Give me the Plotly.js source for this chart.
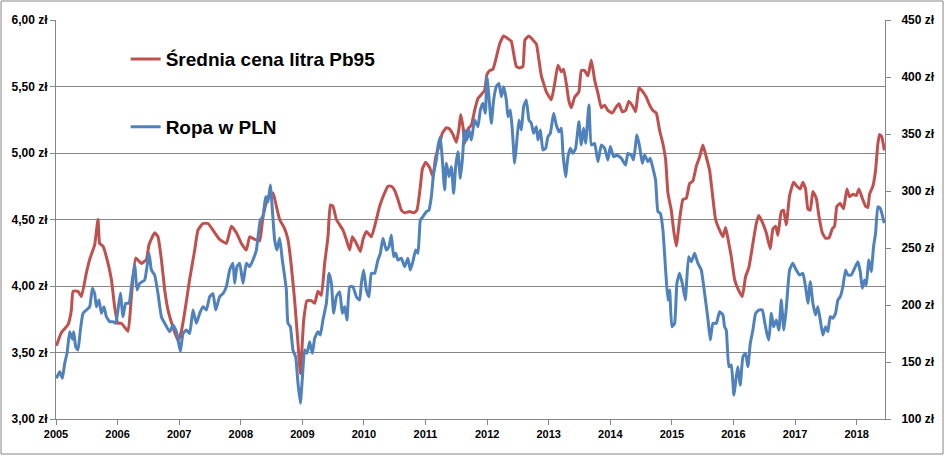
<!DOCTYPE html>
<html>
<head>
<meta charset="utf-8">
<script src="https://cdn.plot.ly/plotly-3.0.1.min.js"></script>
<style>
  html, body { margin: 0; padding: 0; background: #ffffff; }
  #wykres { width: 945px; height: 468px; }
</style>
</head>
<body>
<div id="wykres"></div>
<script>
// Średnia cena litra Pb95 (zł) - lewa oś
var lataPb95 = [
    2005.006, 2005.088, 2005.195, 2005.250, 2005.276, 2005.357, 2005.412, 2005.494, 2005.547, 2005.628,
    2005.682, 2005.709, 2005.763, 2005.818, 2005.899, 2005.953, 2006.006, 2006.062, 2006.169, 2006.224,
    2006.294, 2006.386, 2006.468, 2006.510, 2006.602, 2006.656, 2006.711, 2006.765, 2006.818, 2006.899,
    2006.981, 2007.036, 2007.089, 2007.170, 2007.252, 2007.305, 2007.386, 2007.468, 2007.549, 2007.657,
    2007.766, 2007.847, 2007.929, 2008.010, 2008.091, 2008.144, 2008.226, 2008.307, 2008.360, 2008.442,
    2008.523, 2008.578, 2008.631, 2008.713, 2008.766, 2008.821, 2008.875, 2008.929, 2008.968, 2009.021,
    2009.075, 2009.146, 2009.200, 2009.253, 2009.308, 2009.362, 2009.416, 2009.455, 2009.497, 2009.552,
    2009.606, 2009.659, 2009.714, 2009.768, 2009.812, 2009.877, 2009.942, 2009.984, 2010.039, 2010.120,
    2010.201, 2010.255, 2010.336, 2010.390, 2010.445, 2010.498, 2010.552, 2010.607, 2010.661, 2010.742,
    2010.807, 2010.860, 2010.916, 2010.948, 2011.002, 2011.067, 2011.120, 2011.164, 2011.218, 2011.273,
    2011.338, 2011.391, 2011.445, 2011.500, 2011.542, 2011.570, 2011.607, 2011.635, 2011.688, 2011.744,
    2011.797, 2011.851, 2011.906, 2011.959, 2011.997, 2012.041, 2012.094, 2012.149, 2012.203, 2012.268,
    2012.338, 2012.393, 2012.430, 2012.474, 2012.528, 2012.581, 2012.614, 2012.679, 2012.744, 2012.799,
    2012.841, 2012.880, 2012.906, 2012.961, 2013.042, 2013.096, 2013.149, 2013.205, 2013.242, 2013.286,
    2013.328, 2013.367, 2013.421, 2013.490, 2013.529, 2013.583, 2013.636, 2013.692, 2013.745, 2013.799,
    2013.854, 2013.907, 2013.961, 2014.032, 2014.086, 2014.140, 2014.195, 2014.248, 2014.302, 2014.367,
    2014.411, 2014.464, 2014.529, 2014.584, 2014.638, 2014.692, 2014.747, 2014.800, 2014.854, 2014.898,
    2014.935, 2014.990, 2015.028, 2015.071, 2015.125, 2015.179, 2015.234, 2015.287, 2015.341, 2015.396,
    2015.450, 2015.503, 2015.558, 2015.612, 2015.656, 2015.709, 2015.774, 2015.828, 2015.872, 2015.909,
    2015.964, 2016.018, 2016.071, 2016.143, 2016.196, 2016.250, 2016.315, 2016.370, 2016.412, 2016.468,
    2016.532, 2016.597, 2016.640, 2016.684, 2016.721, 2016.776, 2016.813, 2016.857, 2016.911, 2016.976,
    2017.029, 2017.084, 2017.127, 2017.170, 2017.208, 2017.247, 2017.289, 2017.344, 2017.386, 2017.442,
    2017.495, 2017.549, 2017.604, 2017.641, 2017.679, 2017.734, 2017.787, 2017.841, 2017.885, 2017.938,
    2017.994, 2018.036, 2018.091, 2018.144, 2018.182, 2018.209, 2018.263, 2018.307, 2018.344, 2018.372,
    2018.409, 2018.448
];
var cenaPb95 = [
    3.55, 3.65, 3.71, 3.82, 3.96, 3.96, 3.92, 4.10, 4.20, 4.31,
    4.50, 4.32, 4.30, 4.22, 4.05, 3.84, 3.72, 3.72, 3.66, 3.92,
    4.21, 4.17, 4.20, 4.31, 4.40, 4.37, 4.20, 3.97, 3.82, 3.69,
    3.59, 3.66, 3.80, 4.05, 4.27, 4.42, 4.47, 4.47, 4.42, 4.35,
    4.32, 4.45, 4.40, 4.32, 4.27, 4.37, 4.35, 4.34, 4.52, 4.67,
    4.70, 4.60, 4.50, 4.43, 4.35, 4.15, 3.89, 3.57, 3.34, 3.74,
    3.89, 3.89, 3.87, 3.96, 3.93, 4.17, 4.37, 4.61, 4.60, 4.50,
    4.46, 4.42, 4.35, 4.27, 4.37, 4.32, 4.26, 4.35, 4.41, 4.37,
    4.50, 4.60, 4.70, 4.75, 4.75, 4.72, 4.65, 4.57, 4.55, 4.56,
    4.55, 4.57, 4.75, 4.88, 4.93, 4.89, 4.82, 4.97, 5.05, 5.15,
    5.19, 5.18, 5.14, 5.08, 5.18, 5.29, 5.20, 5.07, 5.18, 5.21,
    5.32, 5.41, 5.44, 5.47, 5.59, 5.62, 5.63, 5.72, 5.82, 5.88,
    5.86, 5.84, 5.75, 5.65, 5.64, 5.65, 5.85, 5.88, 5.85, 5.82,
    5.70, 5.58, 5.54, 5.46, 5.40, 5.52, 5.66, 5.61, 5.63, 5.52,
    5.39, 5.34, 5.42, 5.46, 5.62, 5.62, 5.58, 5.70, 5.55, 5.45,
    5.34, 5.36, 5.32, 5.30, 5.34, 5.37, 5.31, 5.32, 5.39, 5.35,
    5.31, 5.49, 5.46, 5.42, 5.36, 5.32, 5.30, 5.17, 5.07, 4.95,
    4.70, 4.57, 4.42, 4.30, 4.50, 4.65, 4.66, 4.77, 4.79, 4.90,
    4.97, 5.06, 4.97, 4.87, 4.70, 4.50, 4.42, 4.37, 4.44, 4.36,
    4.22, 4.05, 3.98, 3.92, 4.07, 4.14, 4.32, 4.47, 4.53, 4.48,
    4.40, 4.28, 4.43, 4.45, 4.38, 4.56, 4.57, 4.46, 4.68, 4.78,
    4.75, 4.73, 4.78, 4.73, 4.58, 4.57, 4.71, 4.66, 4.53, 4.40,
    4.36, 4.36, 4.43, 4.45, 4.60, 4.62, 4.58, 4.73, 4.67, 4.69,
    4.68, 4.73, 4.66, 4.60, 4.59, 4.69, 4.75, 4.87, 5.07, 5.14,
    5.12, 5.02
];

// Ropa w PLN (zł za baryłkę) - prawa oś
var lataRopa = [
    2005.006, 2005.060, 2005.104, 2005.141, 2005.179, 2005.222, 2005.266, 2005.287, 2005.320, 2005.357,
    2005.396, 2005.438, 2005.494, 2005.547, 2005.591, 2005.628, 2005.656, 2005.698, 2005.737, 2005.779,
    2005.818, 2005.872, 2005.925, 2005.969, 2006.006, 2006.045, 2006.088, 2006.131, 2006.185, 2006.224,
    2006.278, 2006.315, 2006.359, 2006.440, 2006.510, 2006.549, 2006.602, 2006.656, 2006.711, 2006.765,
    2006.846, 2006.899, 2006.955, 2007.019, 2007.062, 2007.117, 2007.170, 2007.224, 2007.279, 2007.333,
    2007.386, 2007.442, 2007.495, 2007.549, 2007.593, 2007.657, 2007.711, 2007.766, 2007.820, 2007.873,
    2007.901, 2007.938, 2007.982, 2008.036, 2008.091, 2008.144, 2008.198, 2008.253, 2008.318, 2008.360,
    2008.404, 2008.442, 2008.481, 2008.513, 2008.550, 2008.588, 2008.631, 2008.675, 2008.713, 2008.740,
    2008.766, 2008.805, 2008.847, 2008.891, 2008.929, 2008.968, 2009.000, 2009.037, 2009.075, 2009.119,
    2009.162, 2009.200, 2009.253, 2009.292, 2009.334, 2009.390, 2009.432, 2009.471, 2009.508, 2009.552,
    2009.606, 2009.649, 2009.687, 2009.724, 2009.768, 2009.821, 2009.877, 2009.930, 2009.958, 2009.995,
    2010.039, 2010.081, 2010.120, 2010.174, 2010.227, 2010.266, 2010.308, 2010.364, 2010.406, 2010.445,
    2010.482, 2010.515, 2010.552, 2010.607, 2010.661, 2010.714, 2010.753, 2010.795, 2010.839, 2010.877,
    2010.916, 2010.958, 2011.013, 2011.055, 2011.094, 2011.131, 2011.175, 2011.201, 2011.240, 2011.273,
    2011.310, 2011.338, 2011.380, 2011.419, 2011.456, 2011.489, 2011.526, 2011.565, 2011.597, 2011.635,
    2011.672, 2011.705, 2011.744, 2011.797, 2011.851, 2011.890, 2011.932, 2011.971, 2011.997, 2012.029,
    2012.068, 2012.106, 2012.149, 2012.192, 2012.231, 2012.268, 2012.312, 2012.338, 2012.377, 2012.409,
    2012.446, 2012.474, 2012.516, 2012.555, 2012.593, 2012.636, 2012.679, 2012.718, 2012.755, 2012.799,
    2012.825, 2012.864, 2012.906, 2012.950, 2012.987, 2013.026, 2013.080, 2013.123, 2013.166, 2013.205,
    2013.231, 2013.274, 2013.312, 2013.351, 2013.393, 2013.437, 2013.490, 2013.529, 2013.567, 2013.599,
    2013.653, 2013.692, 2013.745, 2013.799, 2013.854, 2013.907, 2013.961, 2014.000, 2014.054, 2014.107,
    2014.179, 2014.248, 2014.286, 2014.341, 2014.378, 2014.432, 2014.476, 2014.519, 2014.557, 2014.610,
    2014.649, 2014.692, 2014.735, 2014.773, 2014.812, 2014.854, 2014.898, 2014.935, 2014.963, 2015.000,
    2015.044, 2015.081, 2015.125, 2015.169, 2015.218, 2015.271, 2015.315, 2015.369, 2015.422, 2015.477,
    2015.531, 2015.584, 2015.623, 2015.666, 2015.721, 2015.774, 2015.828, 2015.855, 2015.883, 2015.925,
    2015.964, 2016.006, 2016.045, 2016.071, 2016.110, 2016.153, 2016.196, 2016.234, 2016.273, 2016.315,
    2016.359, 2016.412, 2016.468, 2016.505, 2016.542, 2016.575, 2016.614, 2016.651, 2016.695, 2016.737,
    2016.776, 2016.818, 2016.857, 2016.911, 2016.964, 2017.019, 2017.073, 2017.127, 2017.170, 2017.208,
    2017.247, 2017.289, 2017.333, 2017.370, 2017.409, 2017.451, 2017.495, 2017.532, 2017.571, 2017.614,
    2017.657, 2017.695, 2017.734, 2017.776, 2017.820, 2017.857, 2017.912, 2017.966, 2018.019, 2018.058,
    2018.091, 2018.128, 2018.156, 2018.198, 2018.237, 2018.274, 2018.307, 2018.344, 2018.383, 2018.416,
    2018.448
];
var ropaPLN = [
    135.7, 141.5, 135.7, 148.8, 157.6, 176.6, 170.0, 176.6, 163.4, 160.5,
    178.0, 192.7, 195.6, 198.5, 214.6, 210.0, 198.5, 204.4, 192.7, 198.5,
    189.7, 185.4, 185.4, 183.9, 195.6, 210.3, 189.7, 201.5, 201.5, 216.0,
    235.0, 213.2, 219.0, 221.9, 245.3, 230.7, 226.3, 210.0, 189.7, 183.9,
    176.6, 182.4, 176.6, 159.0, 175.0, 178.0, 175.0, 195.6, 183.9, 192.7,
    198.5, 195.6, 207.3, 210.0, 195.6, 207.3, 210.0, 216.0, 230.7, 236.6,
    219.0, 233.7, 236.6, 219.0, 236.6, 233.7, 239.5, 248.2, 274.6, 277.5,
    295.0, 290.6, 305.3, 283.3, 257.0, 248.2, 258.5, 239.5, 224.8, 213.2,
    183.9, 181.0, 160.5, 154.6, 131.3, 113.8, 136.0, 160.5, 157.6, 167.8,
    157.6, 170.8, 176.6, 173.7, 186.8, 201.5, 227.8, 219.0, 192.7, 207.3,
    211.7, 192.7, 198.5, 186.8, 216.0, 216.0, 207.3, 204.4, 219.0, 230.7,
    213.2, 207.3, 227.8, 227.8, 239.5, 245.3, 258.5, 248.2, 251.0, 261.4,
    242.4, 245.3, 239.5, 241.0, 233.6, 241.0, 230.7, 238.0, 248.2, 245.3,
    274.6, 277.5, 281.9, 283.3, 295.0, 315.5, 327.2, 338.9, 347.6, 327.2,
    300.9, 324.3, 312.6, 321.3, 298.0, 321.3, 334.5, 311.1, 327.2, 353.5,
    344.7, 353.5, 344.7, 362.3, 356.4, 371.1, 377.0, 368.2, 400.3, 382.7,
    359.4, 379.9, 391.5, 394.4, 382.7, 391.5, 379.9, 365.2, 371.1, 353.5,
    324.3, 338.9, 362.3, 353.5, 374.0, 379.9, 362.3, 359.4, 350.6, 356.4,
    344.7, 353.5, 336.0, 337.5, 347.6, 350.6, 368.2, 357.9, 352.0, 355.0,
    333.0, 312.6, 330.1, 337.5, 333.0, 337.5, 360.8, 340.4, 355.0, 341.8,
    375.5, 340.4, 341.8, 325.7, 340.4, 337.5, 327.2, 339.0, 330.1, 331.5,
    328.7, 322.8, 333.0, 331.5, 327.2, 349.1, 339.0, 324.3, 331.5, 325.7,
    328.7, 319.9, 309.6, 281.9, 280.4, 265.8, 230.7, 204.4, 213.2, 181.0,
    183.9, 219.0, 227.8, 219.0, 204.4, 242.4, 238.0, 245.3, 236.6, 230.7,
    210.3, 188.3, 169.3, 183.9, 183.9, 194.1, 191.2, 181.0, 178.0, 145.9,
    147.4, 121.0, 137.2, 145.9, 129.8, 154.6, 157.6, 145.9, 166.4, 178.0,
    192.7, 195.6, 195.6, 185.4, 175.2, 169.3, 192.7, 181.0, 186.8, 178.0,
    204.4, 178.0, 197.0, 230.7, 236.6, 230.7, 226.3, 227.8, 216.0, 201.5,
    220.5, 201.5, 191.2, 198.5, 186.8, 173.7, 181.0, 176.6, 189.7, 188.3,
    192.7, 204.4, 207.3, 216.0, 230.7, 226.3, 226.3, 232.2, 238.0, 229.3,
    214.6, 221.9, 217.5, 239.5, 229.3, 251.2, 262.9, 286.2, 284.8, 278.9,
    271.7
];

var lataTicks = [2005, 2006, 2007, 2008, 2009, 2010, 2011, 2012, 2013, 2014, 2015, 2016, 2017, 2018];

var szary = "#868686";
var czcionka = "Liberation Sans, Arial, sans-serif";

var serieCena = {
    x: lataPb95,
    y: cenaPb95,
    name: "Średnia cena litra Pb95",
    type: "scatter",
    mode: "lines",
    line: { color: "#C0504D", width: 3, shape: "spline", smoothing: 0.4 },
    yaxis: "y",
    legend: "legend",
    showlegend: true,
};

var serieRopa = {
    x: lataRopa,
    y: ropaPLN,
    name: "Ropa w PLN",
    type: "scatter",
    mode: "lines",
    line: { color: "#4F81BD", width: 3, shape: "spline", smoothing: 0.4 },
    yaxis: "y2",
    legend: "legend2",
    showlegend: true,
};

var layout = {
    width: 945,
    height: 468,
    showlegend: true,
    separators: ", ",
    paper_bgcolor: "#ffffff",
    plot_bgcolor: "#ffffff",
    font: { family: czcionka, color: "#000000" },
    margin: { l: 56, r: 60, t: 20, b: 49, pad: 0 },
    xaxis: {
        range: [2005, 2018.46],
        tickvals: lataTicks,
        ticktext: lataTicks.map(String),
        ticks: "outside",
        ticklen: 5,
        tickcolor: szary,
        showline: true,
        linecolor: szary,
        linewidth: 1,
        showgrid: false,
        zeroline: false,
        tickfont: { family: czcionka, size: 11, color: "#000000", weight: "bold" },
    },
    yaxis: {
        range: [3, 6],
        dtick: 0.5,
        tick0: 3,
        tickformat: ".2f",
        ticksuffix: " zł",
        ticks: "outside",
        ticklen: 5,
        tickcolor: szary,
        showline: true,
        linecolor: szary,
        linewidth: 1,
        showgrid: true,
        gridcolor: szary,
        gridwidth: 1,
        zeroline: false,
        tickfont: { family: czcionka, size: 12, color: "#000000", weight: "bold" },
    },
    yaxis2: {
        overlaying: "y",
        side: "right",
        range: [100, 450],
        dtick: 50,
        tick0: 100,
        ticksuffix: " zł",
        ticks: "outside",
        ticklen: 5,
        tickcolor: szary,
        ticklabelstandoff: 8,
        showline: true,
        linecolor: szary,
        linewidth: 1,
        showgrid: false,
        zeroline: false,
        tickfont: { family: czcionka, size: 12, color: "#000000", weight: "bold" },
    },
    legend: {
        visible: true,
        x: 0.084,
        y: 0.902,
        xanchor: "left",
        yanchor: "middle",
        bgcolor: "rgba(0,0,0,0)",
        font: { family: czcionka, size: 19, color: "#000000", weight: "bold" },
        itemwidth: 30,
    },
    legend2: {
        visible: true,
        x: 0.084,
        y: 0.732,
        xanchor: "left",
        yanchor: "middle",
        bgcolor: "rgba(0,0,0,0)",
        font: { family: czcionka, size: 19, color: "#000000", weight: "bold" },
        itemwidth: 30,
    },
    shapes: [
        {
            type: "rect",
            xref: "paper",
            yref: "paper",
            x0: -0.0663,
            x1: 1.07,
            y0: -0.0877,
            y1: 1.0476,
            line: { color: szary, width: 1 },
        },
    ],
};

Plotly.newPlot("wykres", [serieCena, serieRopa], layout, { staticPlot: true });
</script>
</body>
</html>
